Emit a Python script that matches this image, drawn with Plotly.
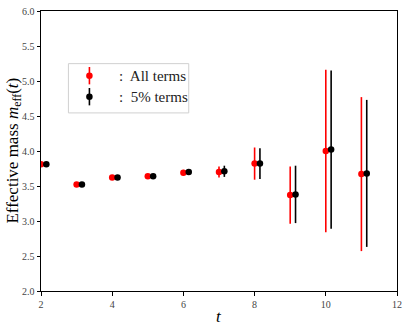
"""
Effective mass plot - all terms vs 5% terms
"""

import plotly.graph_objects as go

# dados
t_vals = [2, 3, 4, 5, 6, 7, 8, 9, 10, 11]
m_all = [3.81, 3.52, 3.62, 3.64, 3.69, 3.70, 3.82, 3.37, 4.00, 3.67]
err_all = [0.02, 0.02, 0.02, 0.02, 0.04, 0.08, 0.23, 0.41, 1.16, 1.10]
m_5pct = [3.81, 3.52, 3.62, 3.64, 3.70, 3.71, 3.82, 3.38, 4.02, 3.68]
err_5pct = [0.02, 0.02, 0.02, 0.02, 0.04, 0.08, 0.22, 0.41, 1.13, 1.05]
shift = 0.15  # deslocamento horizontal da segunda serie

legend_labels = [':  All terms', ':  5% terms']
colors = ['red', 'black']

FONT = 'Liberation Serif'

fig = go.Figure()

fig.add_trace(go.Scatter(
    x=t_vals, y=m_all, mode='markers', name='All terms',
    marker=dict(color='red', size=6.5),
    error_y=dict(type='data', array=err_all, color='red', thickness=1.6, width=0),
    showlegend=False))

fig.add_trace(go.Scatter(
    x=[t + shift for t in t_vals], y=m_5pct, mode='markers', name='5% terms',
    marker=dict(color='black', size=6.5),
    error_y=dict(type='data', array=err_5pct, color='black', thickness=1.6, width=0),
    showlegend=False))

# legenda manual (simbolo com barra de erro), num eixo auxiliar 0-1
leg_x = 0.136
leg_y = [0.769, 0.694]
for i, (lab, col) in enumerate(zip(legend_labels, colors)):
    fig.add_trace(go.Scatter(
        x=[leg_x], y=[leg_y[i]], mode='markers', xaxis='x2', yaxis='y2',
        marker=dict(color=col, size=6.5),
        error_y=dict(type='data', array=[0.031], color=col, thickness=1.6, width=0),
        showlegend=False, hoverinfo='skip', cliponaxis=False))
    fig.add_annotation(x=0.213, y=leg_y[i], xref='x2', yref='y2', text=lab,
                       showarrow=False, xanchor='left', yanchor='middle',
                       font=dict(family=FONT, size=15, color='#222'))

fig.add_shape(type='rect', xref='paper', yref='paper',
              x0=0.077, x1=0.415, y0=0.636, y1=0.812,
              line=dict(color='#d0d0d0', width=1), fillcolor='rgba(255,255,255,0.8)',
              layer='below')

# titulos dos eixos como anotacoes para controlar a posicao
fig.add_annotation(x=0.5, y=-0.09, xref='paper', yref='paper', text='<i>t</i>',
                   showarrow=False, xanchor='center', yanchor='middle',
                   font=dict(family=FONT, size=17, color='black'))
fig.add_annotation(x=-0.077, y=0.5, xref='paper', yref='paper',
                   text='Effective mass <i>m</i><sub>eff</sub>(<i>t</i>)',
                   textangle=-90, showarrow=False, xanchor='center', yanchor='middle',
                   font=dict(family=FONT, size=17, color='black'))

axis_style = dict(showline=True, linecolor='black', linewidth=1, mirror=True,
                  ticks='outside', ticklen=3.5, tickwidth=0.8, tickcolor='black',
                  showgrid=False, zeroline=False, automargin=False,
                  tickfont=dict(family=FONT, size=10, color='#444'))

fig.update_layout(
    width=407, height=332,
    margin=dict(l=41, r=10, t=11, b=41),
    plot_bgcolor='white', paper_bgcolor='white',
    xaxis=dict(range=[2, 12], tickvals=[2, 4, 6, 8, 10, 12], **axis_style),
    yaxis=dict(range=[2.0, 6.0], tickvals=[2.0, 2.5, 3.0, 3.5, 4.0, 4.5, 5.0, 5.5, 6.0],
               tickformat='.1f', **axis_style),
    xaxis2=dict(range=[0, 1], domain=[0, 1], overlaying='x', visible=False, fixedrange=True),
    yaxis2=dict(range=[0, 1], domain=[0, 1], overlaying='y', visible=False, fixedrange=True),
    showlegend=False,
)

# tira a margem padrao do body para a figura ocupar a janela toda
fig.write_html("out.html", config={'displayModeBar': False},
               post_script="document.body.style.margin='0';")
